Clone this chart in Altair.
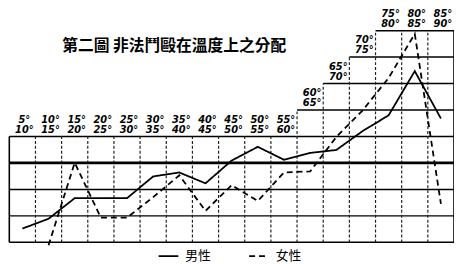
import altair as alt
import pandas as pd

# ---- data ----
lo_labels = ["5°", "10°", "15°", "20°", "25°", "30°", "35°", "40°", "45°",
             "50°", "55°", "60°", "65°", "70°", "75°", "80°", "85°"]
hi_labels = ["10°", "15°", "20°", "25°", "30°", "35°", "40°", "45°", "50°",
             "55°", "60°", "65°", "70°", "75°", "80°", "85°", "90°"]
col_tops = [110, 110, 110, 110, 110, 110, 110, 110, 110, 110, 110,
            120, 130, 140, 150, 150, 150]
male = [75.2, 78.9, 86.7, 86.7, 86.7, 94.9, 96.4, 92.3, 100.9, 106.1,
        101.2, 103.8, 104.9, 112.0, 118.0, 134.7, 116.8]
female = [None, 68.9, 100.1, 79.3, 79.3, 87.1, 95.3, 81.9, 91.6, 85.6,
          96.4, 96.8, 109.8, 119.8, 132.1, 148.8, 84.5]
series_names = ["男性", "女性"]
title_text = "第二圖 非法鬥毆在溫度上之分配"
grid_bottom = 70
grid_step = 10
base_value = 100

# ---- tables ----
n = len(lo_labels)
rows = []
for i in range(n):
    rows.append({"x": i + 0.5, "v": male[i], "series": series_names[0]})
    if female[i] is not None:
        rows.append({"x": i + 0.5, "v": female[i], "series": series_names[1]})
lines_df = pd.DataFrame(rows)

labels_df = pd.DataFrame({"x": [i + 0.5 for i in range(n)], "top": col_tops,
                          "lo": lo_labels, "hi": hi_labels})

h_rows = []
v = grid_bottom
while v <= max(col_tops):
    idx = [i for i in range(n) if col_tops[i] >= v]
    h_rows.append({"x1": min(idx), "x2": n, "v": v})
    v += grid_step
h_df = pd.DataFrame(h_rows)

v_rows = []
for b in range(n + 1):
    adj = []
    if b >= 1:
        adj.append(col_tops[b - 1])
    if b < n:
        adj.append(col_tops[b])
    v_rows.append({"x": b, "y1": grid_bottom, "y2": max(adj),
                   "edge": b == 0 or b == n})
v_df = pd.DataFrame(v_rows)

X = alt.Scale(domain=[-0.05, n], nice=False, zero=False)
Y = alt.Scale(domain=[62.56, 157.81], nice=False, zero=False)
xq = lambda f: alt.X(f, type="quantitative", scale=X, axis=None)
yq = lambda f: alt.Y(f, type="quantitative", scale=Y, axis=None)

hgrid = alt.Chart(h_df).mark_rule(color="black", strokeWidth=1.5).encode(
    x=xq("x1"), x2="x2", y=yq("v"))
hthick = alt.Chart(h_df).transform_filter(
    alt.datum.v == base_value).mark_rule(color="black", strokeWidth=2.8).encode(
    x=xq("x1"), x2="x2", y=yq("v"))
vinner = alt.Chart(v_df).transform_filter("!datum.edge").mark_rule(
    color="#222", strokeWidth=1.2, strokeDash=[3, 2]).encode(
    x=xq("x"), y=yq("y1"), y2="y2")
vedge = alt.Chart(v_df).transform_filter("datum.edge").mark_rule(
    color="black", strokeWidth=1.6).encode(x=xq("x"), y=yq("y1"), y2="y2")

lines = alt.Chart(lines_df).mark_line(color="black", strokeWidth=1.8).encode(
    x=xq("x"), y=yq("v"),
    strokeDash=alt.StrokeDash(
        "series:N",
        scale=alt.Scale(domain=series_names, range=[[1, 0], [6, 4]]),
        legend=alt.Legend(title=None, orient="none", legendX=152, legendY=239,
                          direction="horizontal", symbolType="stroke",
                          symbolStrokeColor="black", symbolStrokeWidth=1.6,
                          symbolSize=400, labelFont="Noto Sans CJK TC",
                          labelFontSize=13, labelColor="black",
                          columnPadding=34, padding=0, labelOffset=6)),
    detail="series:N")

lab_style = dict(font="DejaVu Sans", fontSize=10, fontStyle="italic",
                 fontWeight="bold", color="black", align="center", dx=2)
lab_lo = alt.Chart(labels_df).mark_text(dy=-14, baseline="alphabetic",
                                        **lab_style).encode(
    x=xq("x"), y=yq("top"), text="lo:N")
lab_hi = alt.Chart(labels_df).mark_text(dy=-4, baseline="alphabetic",
                                        **lab_style).encode(
    x=xq("x"), y=yq("top"), text="hi:N")

title = alt.Chart(pd.DataFrame({"t": [title_text]})).mark_text(
    align="left", baseline="middle", font="Noto Sans CJK TC", fontSize=16,
    fontWeight="bold", color="black").encode(
    x=alt.value(55), y=alt.value(37), text="t:N")

chart = alt.layer(hgrid, vinner, vedge, hthick, lines, lab_lo, lab_hi,
                  title).properties(
    width=453, height=256, padding=0,
    autosize=alt.AutoSizeParams(type="none"),
    background="white").configure_view(strokeWidth=0)

chart.save("out.html", embed_options={"renderer": "svg", "actions": False})
